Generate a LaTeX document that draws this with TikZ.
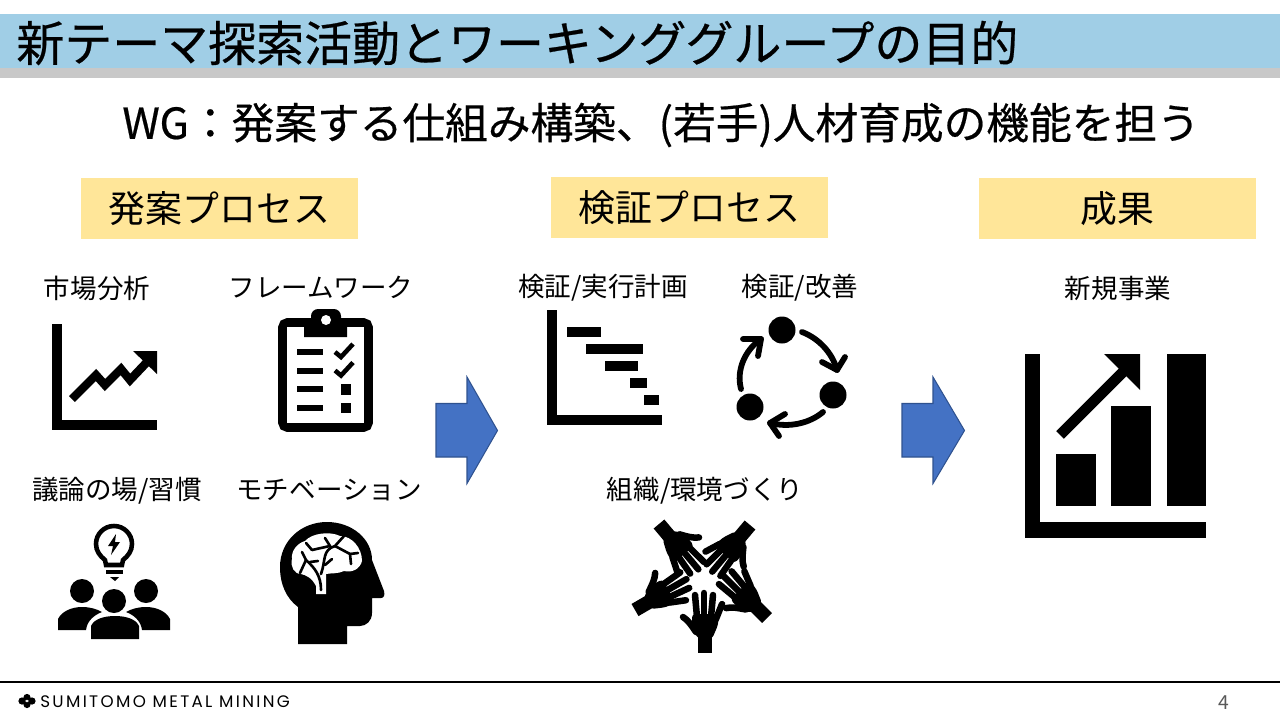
\documentclass[tikz,border=0pt]{standalone}
\usepackage{fontspec}
\setmainfont{Noto Sans CJK JP}
\newfontfamily\heavyfont[FakeBold=0.5]{Noto Sans CJK JP}
\newfontfamily\logofont[LetterSpace=14]{Poppins}
\definecolor{barblue}{HTML}{A0CEE6}
\definecolor{bargray}{HTML}{C8C8C8}
\definecolor{headyellow}{HTML}{FFE699}
\definecolor{arrowblue}{HTML}{4472C4}
\definecolor{arrowedge}{HTML}{2F528F}
\tikzset{
    headbox/.style={fill=headyellow, minimum width=5.54cm, minimum height=1.22cm, inner sep=0pt, font=\fontsize{21}{25}\selectfont},
    itemlabel/.style={inner sep=0pt, font=\fontsize{15.1}{18}\selectfont},
    blockarrow/.style={fill=arrowblue, draw=arrowedge, line width=0.6pt},
    axisline/.style={line width=5.7pt},
    finger/.style={line width=3.7pt, line cap=round},
    loopline/.style={line width=3.3pt, line cap=round, line join=round},
    vein/.style={line width=1.5pt, line cap=round}
}
\begin{document}
\begin{tikzpicture}[x=0.02cm, y=-0.02cm]
    \useasboundingbox (0,0) rectangle (1280,720);
    % Title band
    \fill[barblue] (0,14) rectangle (1280,68);
    \fill[bargray] (0,68) rectangle (1280,78);
    \node[anchor=west, inner sep=0pt, font=\heavyfont\fontsize{27.3}{32}\selectfont] (title) at (16,43) {新テーマ探索活動とワーキンググループの目的};
    \node[anchor=west, inner sep=0pt, font=\heavyfont\fontsize{24.3}{28}\selectfont] (subtitle) at (122,125) {WG：発案する仕組み構築、(若手)人材育成の機能を担う};

    % Column heads
    \node[headbox] (ideahead) at (219.5,208.5) {発案プロセス};
    \node[headbox] (testhead) at (689.5,207.5) {検証プロセス};
    \node[headbox] (resulthead) at (1117.5,208.5) {成果};

    % Item labels
    \node[itemlabel] (market) at (97,288) {市場分析};
    \node[itemlabel] (frame) at (321,287) {フレームワーク};
    \node[itemlabel] (debate) at (117,491) {議論の場/習慣};
    \node[itemlabel] (motive) at (329,490) {モチベーション};
    \node[itemlabel] (plan) at (603,288) {検証/実行計画};
    \node[itemlabel] (improve) at (800,288) {検証/改善};
    \node[itemlabel] (org) at (705,491) {組織/環境づくり};
    \node[itemlabel] (business) at (1118,288) {新規事業};

    % Block arrows
    \draw[blockarrow] (436,403.5) -- (467,403.5) -- (467,377) -- (497.5,430.5) -- (467,483.5) -- (467,457) -- (436,457) -- cycle;
    \draw[blockarrow] (902,403.5) -- (933,403.5) -- (933,377) -- (964.5,430.5) -- (933,483.5) -- (933,457) -- (902,457) -- cycle;

    % Market chart
    \draw[axisline] (57,324) -- (57,424.5) -- (157,424.5);
    \draw[line width=4.8pt] (72,399) -- (96,375) -- (105,385) -- (121,369) -- (130,380) -- (148,361);
    \fill (133,351) -- (157,351) -- (157,374) -- cycle;

    % Clipboard
    \draw[line width=5.1pt, rounded corners=3pt] (282.5,322.5) rectangle (368.5,427.5);
    \fill[white] (287,327) rectangle (364,423);
    \fill (304,337) -- (304,318) -- (311,318) [rounded corners=4pt] -- (311,309) -- (341,309) [sharp corners] -- (341,318) -- (347,318) -- (347,337) -- cycle;
    \fill[white] (326,320) circle (5);
    \foreach \rowy in {352,371,389,408}
        \fill (297,\rowy-3) rectangle (323,\rowy+3);
    \foreach \rowy in {352,370.5}
        \draw[line width=2.6pt] (335,\rowy) -- (341,\rowy+5) -- (353,\rowy-8);
    \fill (341,384) rectangle (351,395);
    \fill (341,403) rectangle (351,413);

    % Idea and people
    \draw[line width=2.6pt] (106,565) -- (105,560) .. controls (100,556) and (96,551) .. (96,544)
        .. controls (96,534) and (104,526) .. (114,526) .. controls (124,526) and (132,534) .. (132,544)
        .. controls (132,551) and (128,556) .. (123,560) -- (122,565) -- cycle;
    \fill (116,534) -- (108,546) -- (113,546) -- (111,555) -- (120,542) -- (115,542) -- cycle;
    \fill (106,570) rectangle (123,573.5);
    \fill (110,577) -- (119,577) -- (115,581) -- cycle;
    \fill (114,601) circle (12);
    \fill (82,591) circle (12);
    \fill (146,591) circle (12);
    \fill (91,639) -- (91,626) .. controls (94,619) and (104,616) .. (115,616) .. controls (126,616) and (136,619) .. (139,626) -- (139,639) -- cycle;
    \fill (58,630) -- (58,619) .. controls (62,611) and (72,607) .. (82,607) .. controls (90,607) and (97,609) .. (102,612) .. controls (94,615) and (87,621) .. (86,630) -- cycle;
    \fill (170,630) -- (170,619) .. controls (166,611) and (156,607) .. (146,607) .. controls (138,607) and (131,609) .. (126,612) .. controls (134,615) and (141,621) .. (142,630) -- cycle;

    % Head and brain
    \fill (298,644) -- (298,607) .. controls (286,598) and (280,584) .. (280,567)
        .. controls (280,541) and (301,522) .. (327,522) .. controls (352,522) and (372,539) .. (372,560)
        -- (384,591) .. controls (385,595) and (384,598) .. (381,598) -- (372,598) -- (372,613)
        .. controls (372,621) and (366,626) .. (360,626) -- (347,626) -- (347,644) -- cycle;
    \fill[white] (316,594) -- (316,586) .. controls (312,578) and (306,575) .. (301,574)
        .. controls (294,574) and (290,566) .. (292,559) .. controls (291,550) and (298,543) .. (305,541)
        .. controls (312,533) and (330,531) .. (340,536) .. controls (352,536) and (362,548) .. (362,561)
        .. controls (360,569) and (352,573) .. (344,571) .. controls (338,574) and (330,573) .. (326,574)
        -- (326,594) -- cycle;
    \draw[vein] (321,590) .. controls (321,576) and (315,568) .. (306,560) -- (302,552);
    \draw[vein] (306,560) -- (300,573);
    \draw[vein] (321,574) .. controls (326,560) and (322,550) .. (335,546) -- (344,536);
    \draw[vein] (335,546) -- (350,554) -- (351,564);
    \draw[vein] (350,554) -- (358,553);
    \draw[vein] (312,550) -- (330,546) -- (325,538);
    \draw[vein] (312,550) -- (306,543);
    \draw[vein] (310,562) -- (318,561);
    \draw[vein] (325,565) -- (332,559);

    % Gantt chart
    \draw[axisline] (552,310) -- (552,420) -- (662,420);
    \fill (567,327) rectangle (601,337);
    \fill (586,344) rectangle (643,354);
    \fill (605,361) rectangle (638,371);
    \fill (630,378) rectangle (647,388);
    \fill (644,395) rectangle (659,405);

    % Improvement cycle
    \fill (782,330) circle (13.5);
    \fill (833,395) circle (13.5);
    \fill (750,407) circle (13.5);
    \draw[loopline] (802,332) .. controls (818,338) and (832,352) .. (837,370);
    \draw[loopline] (822,362) -- (837,370) -- (845,357);
    \draw[loopline] (823,412) .. controls (810,423) and (790,428) .. (770,423);
    \draw[loopline] (785,414) -- (770,423) -- (779,436);
    \draw[loopline] (741,389) .. controls (736,370) and (745,350) .. (761,339);
    \draw[loopline] (743,339) -- (761,339) -- (758,356);

    % Five hands
    \foreach \wx/\wy/\ang in {705/653/0, 635/610/-60, 659/524/-140, 750/525/140, 767/618/45} {
        \begin{scope}[shift={(\wx,\wy)}, rotate=\ang]
            \fill (-7,0) rectangle (7,-20);
            \fill[rounded corners=2pt] (-13,-39) -- (14,-39) -- (13,-28) -- (7,-14) -- (-7,-14) -- (-13,-26) -- cycle;
            \draw[finger] (-10,-58) -- (-8,-36);
            \draw[finger] (-1,-60) -- (-1,-36);
            \draw[finger] (8,-58) -- (6,-36);
            \draw[finger] (17,-49) -- (11,-34);
            \draw[finger] (-22,-36) .. controls (-17,-33) and (-13,-27) .. (-9,-21);
        \end{scope}
    }

    % Growth chart
    \draw[line width=9pt] (1032.5,354) -- (1032.5,530) -- (1206,530);
    \fill (1056,454) rectangle (1096,506);
    \fill (1111,406) rectangle (1151,506);
    \fill (1167,354) rectangle (1206,506);
    \draw[line width=6.2pt] (1060,435) -- (1123,372);
    \fill (1104,354) -- (1140,354) -- (1140,390) -- cycle;

    % Footer
    \draw[line width=1.3pt] (0,682) -- (1280,682);
    \fill (22,701) circle (3.6);
    \fill (32,701) circle (3.6);
    \fill (27,697.5) circle (3.6);
    \fill (27,704.5) circle (3.6);
    \fill[white] (27,701) circle (1.3);
    \node[anchor=west, inner sep=0pt, font=\logofont\fontsize{9.5}{11}\selectfont] (logo) at (40,701.5) {SUMITOMO METAL MINING};
    \node[inner sep=0pt, text=black!65, font=\fontsize{11}{13}\selectfont] (pageno) at (1224,703) {4};
\end{tikzpicture}
\end{document}
